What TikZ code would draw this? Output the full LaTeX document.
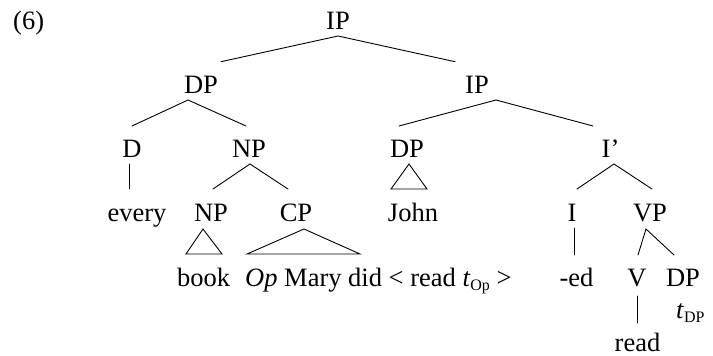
\documentclass[tikz,border=0pt]{standalone}
\usepackage{fontspec}
\setmainfont{Liberation Serif}
\newcommand{\mysub}[1]{\raisebox{-4.5pt}{\fontsize{16}{18}\selectfont #1}}
\begin{document}
\begin{tikzpicture}[x=1pt,y=-1pt,
  lbl/.style={anchor=base,inner sep=0pt,font=\fontsize{26.5}{30}\selectfont},
  lblw/.style={lbl,anchor=base west},
  edge/.style={line width=0.9pt,line cap=round}]
\useasboundingbox (0,0) rectangle (713,356);
% labels
\node[lblw] (ex) at (13,29) {(6)};
\node[lbl] (IPa) at (338,29) {IP};
\node[lbl] (DPa) at (201,93) {DP};
\node[lbl] (IPb) at (477,93) {IP};
\node[lbl] (D) at (132,157) {D};
\node[lbl] (NPa) at (249,157) {NP};
\node[lbl] (DPb) at (407,157) {DP};
\node[lbl] (Ib) at (610.5,157) {I’};
\node[lbl] (every) at (137,221.5) {every};
\node[lbl] (NPb) at (211,221.5) {NP};
\node[lbl] (CP) at (296,221.5) {CP};
\node[lbl] (John) at (413,221.5) {John};
\node[lbl] (I) at (572,221.5) {I};
\node[lbl] (VP) at (650,221.5) {VP};
\node[lbl] (book) at (203.5,286) {book};
\node[lblw] (op) at (245,286) {\textit{Op} Mary did < read \textit{t}\mysub{Op} >};
\node[lbl] (ed) at (576.5,286) {-ed};
\node[lbl] (V) at (637,286) {V};
\node[lbl] (DPc) at (683,286) {DP};
\node[lblw] (tdp) at (676,318) {\textit{t}\mysub{DP}};
\node[lbl] (read) at (637.5,351) {read};
% connectors
\draw[edge] ([shift={(20,-31.3)}]DPa.base) -- ([shift={(0,7)}]IPa.base) -- ([shift={(-22,-31.3)}]IPb.base);
\draw[edge] ([shift={(0,-31)}]D.base) -- ([shift={(-13,7)}]DPa.base) -- ([shift={(-3,-31)}]NPa.base);
\draw[edge] ([shift={(-8,-31)}]DPb.base) -- ([shift={(19,7)}]IPb.base) -- ([shift={(-17.5,-31)}]Ib.base);
\draw[edge] ([shift={(-3,7)}]D.base) -- ([shift={(-8,-32.5)}]every.base);
\draw[edge] ([shift={(2,-32.5)}]NPb.base) -- ([shift={(1,7)}]NPa.base) -- ([shift={(-8,-32.5)}]CP.base);
\draw[edge] ([shift={(2,7)}]DPb.base) -- ([shift={(-22,-32.5)}]John.base) -- ([shift={(14,-32.5)}]John.base) -- cycle;
\draw[edge] ([shift={(5,-32.5)}]I.base) -- ([shift={(3.5,7)}]Ib.base) -- ([shift={(2,-32.5)}]VP.base);
\draw[edge] ([shift={(-8,7.5)}]NPb.base) -- ([shift={(-17.5,-32)}]book.base) -- ([shift={(18.5,-32)}]book.base) -- cycle;
\draw[edge] ([shift={(8,7.5)}]CP.base) -- ([shift={(2,-32)}]op.base west) -- ([shift={(115,-32)}]op.base west) -- cycle;
\draw[edge] ([shift={(2,6.5)}]I.base) -- ([shift={(-2.5,-31)}]ed.base);
\draw[edge] ([shift={(1,-31)}]V.base) -- ([shift={(-4,7.5)}]VP.base) -- ([shift={(-9,-31)}]DPc.base);
\draw[edge] ([shift={(0,10)}]V.base) -- ([shift={(-0.5,-28)}]read.base);
\end{tikzpicture}
\end{document}
